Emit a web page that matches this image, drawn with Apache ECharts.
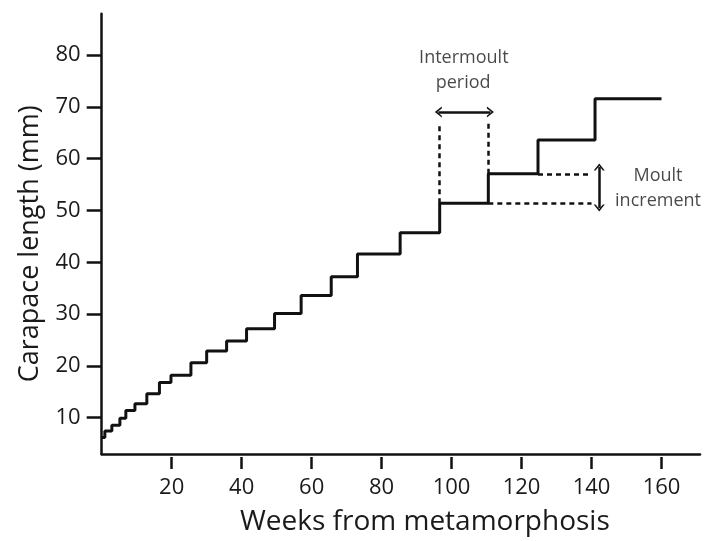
<!DOCTYPE html>
<html>
<head>
<meta charset="utf-8">
<script src="https://cdn.jsdelivr.net/npm/echarts@6/dist/echarts.min.js"></script>
<style>
html,body{margin:0;padding:0;background:#fff;}
#chart{width:706px;height:541px;}
</style>
</head>
<body>
<div id="chart"></div>
<script>
// Moult times (weeks) and carapace length reached at each moult (mm)
const moultWeeks = [0, 0.9, 2.9, 5.2, 6.9, 9.5, 12.9, 16.5, 19.8, 25.5, 30, 35.7, 41.4, 49.4, 57, 65.6, 73.1, 85.3, 96.6, 110.5, 124.7, 141, 160];
const carapaceLengths = [6.2, 7.45, 8.55, 9.9, 11.4, 12.7, 14.65, 16.8, 18.2, 20.6, 22.9, 24.8, 27.2, 30.1, 33.6, 37.2, 41.6, 45.7, 51.4, 57.1, 63.6, 71.6, 71.6];

const xTicks = [20, 40, 60, 80, 100, 120, 140, 160];
const yTicks = [10, 20, 30, 40, 50, 60, 70, 80];

// Annotation positions (data units)
const intermoultTop = 66.9;
const intermoultArrowY = 69.0;
const intermoultArrowX = [96.2, 111.1];
const incrementDashEnd = 140;
const incrementArrowX = 142.2;
const incrementArrowY = [50.5, 58.4];
const annotationTexts = ['Intermoult', 'period', 'Moult', 'increment'];
const annotationX = [103.5, 103.3, 159, 159];
const annotationY = [79.4, 74.7, 56.7, 51.8];

const FONT = 'Open Sans';
const seriesData = moultWeeks.map((w, i) => [w, carapaceLengths[i]]);

const chevron = 'path://M0,10 L5,0 L10,10 L8.3,10 L5,3.6 L1.7,10 Z';
const dash = { type: [5, 4], width: 2.5, color: '#111' };
const solid = { type: 'solid', width: 2.5, color: '#111' };

const iA = 18, iB = 19; // the two moults illustrating the annotations
const markData = [
  [{ coord: [moultWeeks[iA], carapaceLengths[iA]], symbol: 'none', lineStyle: dash },
   { coord: [moultWeeks[iA], intermoultTop], symbol: 'none' }],
  [{ coord: [moultWeeks[iB], carapaceLengths[iB]], symbol: 'none', lineStyle: dash },
   { coord: [moultWeeks[iB], intermoultTop], symbol: 'none' }],
  [{ coord: [intermoultArrowX[0], intermoultArrowY], symbol: chevron, symbolSize: [11, 7], lineStyle: solid },
   { coord: [intermoultArrowX[1], intermoultArrowY], symbol: chevron, symbolSize: [11, 7] }],
  [{ coord: [moultWeeks[iB + 1], carapaceLengths[iB]], symbol: 'none', lineStyle: dash },
   { coord: [incrementDashEnd, carapaceLengths[iB]], symbol: 'none' }],
  [{ coord: [moultWeeks[iB], carapaceLengths[iA]], symbol: 'none', lineStyle: dash },
   { coord: [incrementDashEnd, carapaceLengths[iA]], symbol: 'none' }],
  [{ coord: [incrementArrowX, incrementArrowY[0]], symbol: chevron, symbolSize: [11, 7], lineStyle: solid },
   { coord: [incrementArrowX, incrementArrowY[1]], symbol: chevron, symbolSize: [11, 7] }]
];

const chart = echarts.init(document.getElementById('chart'), null, { renderer: 'canvas' });
chart.setOption({
  animation: false,
  backgroundColor: '#fff',
  textStyle: { fontFamily: FONT },
  grid: { left: 101.7, right: 6, top: 13.7, bottom: 86, containLabel: false },
  xAxis: [
    {
      type: 'value', min: 0, max: 171,
      name: 'Weeks from metamorphosis', nameLocation: 'middle', nameGap: 54,
      nameTextStyle: { fontFamily: FONT, fontSize: 28, color: '#1a1a1a', padding: [0, 0, 0, 48] },
      axisLine: { show: true, onZero: false, lineStyle: { color: '#111', width: 2.5 } },
      axisTick: { show: false }, axisLabel: { show: false }, splitLine: { show: false }
    },
    {
      type: 'value', min: 0, max: 171, position: 'bottom', offset: 3,
      axisLine: { show: false },
      axisTick: { show: true, length: 12, customValues: xTicks, lineStyle: { color: '#111', width: 2.5 } },
      axisLabel: { show: true, customValues: xTicks, margin: 20, fontFamily: FONT, fontSize: 22, color: '#1a1a1a' },
      splitLine: { show: false }
    }
  ],
  yAxis: {
    type: 'value', min: 3, max: 88,
    name: 'Carapace length (mm)', nameLocation: 'middle', nameGap: 58,
    nameTextStyle: { fontFamily: FONT, fontSize: 27, color: '#1a1a1a', padding: [0, 20, 0, 0] },
    axisLine: { show: true, onZero: false, lineStyle: { color: '#111', width: 2.5 } },
    axisTick: { show: true, length: 15, customValues: yTicks, lineStyle: { color: '#111', width: 2.5 } },
    axisLabel: { show: true, customValues: yTicks, margin: 21, fontFamily: FONT, fontSize: 22, color: '#1a1a1a' },
    splitLine: { show: false }
  },
  series: [
    {
      type: 'line', xAxisIndex: 0, data: seriesData, step: 'end',
      symbol: 'none', lineStyle: { color: '#111', width: 3 },
      silent: true,
      markLine: { silent: true, animation: false, label: { show: false }, data: markData }
    },
    {
      type: 'scatter', xAxisIndex: 0, silent: true,
      data: annotationTexts.map((t, i) => ({ value: [annotationX[i], annotationY[i]], name: t })),
      symbolSize: 1, itemStyle: { color: 'rgba(0,0,0,0)' },
      label: { show: true, position: 'inside', formatter: p => p.name, fontFamily: FONT, fontSize: 18, color: '#1a1a1a' }
    }
  ]
});
</script>
</body>
</html>
